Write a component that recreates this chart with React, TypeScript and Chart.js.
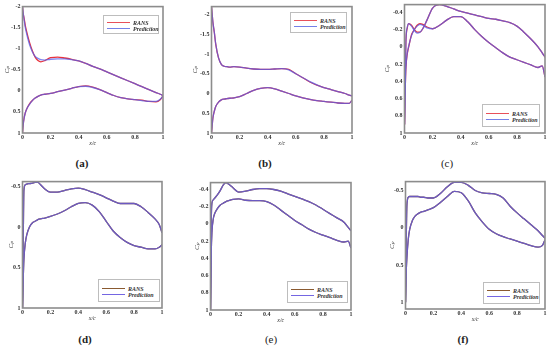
import React, { useEffect, useRef } from "react";
import { Chart, registerables } from "chart.js";
Chart.register(...registerables);

// chordwise positions x/c shared by every curve
const xc = [0, 0.005, 0.01, 0.02, 0.03, 0.05, 0.07, 0.09, 0.11, 0.13, 0.16, 0.2, 0.25, 0.3, 0.35, 0.4, 0.45, 0.5, 0.55, 0.6, 0.65, 0.7, 0.75, 0.8, 0.85, 0.9, 0.95, 0.98, 1];
const xTicks = [0, 0.2, 0.4, 0.6, 0.8, 1];

// (a)
const aUpperRans = [-2.0, -1.83, -1.75, -1.55, -1.4, -1.15, -0.95, -0.8, -0.72, -0.69, -0.72, -0.79, -0.8, -0.78, -0.75, -0.71, -0.65, -0.58, -0.52, -0.45, -0.38, -0.31, -0.24, -0.17, -0.1, -0.03, 0.04, 0.08, 0.11];
const aUpperPred = [-2.0, -1.85, -1.72, -1.5, -1.35, -1.1, -0.93, -0.82, -0.77, -0.74, -0.73, -0.75, -0.76, -0.76, -0.74, -0.71, -0.65, -0.58, -0.52, -0.45, -0.38, -0.31, -0.24, -0.17, -0.1, -0.03, 0.04, 0.08, 0.11];
const aLowerRans = [1.0, 0.8, 0.67, 0.52, 0.43, 0.31, 0.23, 0.17, 0.13, 0.1, 0.08, 0.06, 0.02, -0.02, -0.06, -0.1, -0.12, -0.09, -0.03, 0.04, 0.11, 0.16, 0.19, 0.21, 0.22, 0.25, 0.26, 0.21, 0.12];
const aLowerPred = [1.0, 0.8, 0.68, 0.52, 0.43, 0.32, 0.23, 0.17, 0.13, 0.1, 0.08, 0.06, 0.02, -0.02, -0.06, -0.1, -0.11, -0.08, -0.03, 0.04, 0.11, 0.16, 0.19, 0.21, 0.23, 0.25, 0.25, 0.2, 0.12];
const aYTicks = [-2, -1.5, -1, -0.5, 0, 0.5, 1];

// (b)
const bUpperRans = [-2.2, -2.0, -1.8, -1.55, -1.25, -0.9, -0.74, -0.69, -0.68, -0.67, -0.68, -0.67, -0.64, -0.62, -0.61, -0.61, -0.62, -0.63, -0.61, -0.5, -0.4, -0.29, -0.21, -0.15, -0.1, -0.05, 0.0, 0.04, 0.06];
const bUpperPred = [-2.2, -2.0, -1.8, -1.55, -1.26, -0.9, -0.74, -0.69, -0.68, -0.67, -0.68, -0.67, -0.64, -0.62, -0.61, -0.61, -0.62, -0.63, -0.6, -0.5, -0.4, -0.3, -0.22, -0.15, -0.1, -0.05, 0.0, 0.04, 0.06];
const bLowerRans = [1.0, 0.8, 0.62, 0.45, 0.33, 0.22, 0.16, 0.14, 0.13, 0.12, 0.11, 0.08, 0.0, -0.08, -0.13, -0.15, -0.12, -0.06, 0.0, 0.06, 0.11, 0.15, 0.18, 0.2, 0.22, 0.24, 0.25, 0.25, 0.17];
const bLowerPred = [1.0, 0.8, 0.62, 0.45, 0.33, 0.22, 0.16, 0.14, 0.13, 0.12, 0.11, 0.08, 0.0, -0.08, -0.13, -0.15, -0.12, -0.06, 0.0, 0.06, 0.11, 0.15, 0.18, 0.2, 0.22, 0.24, 0.25, 0.25, 0.17];
const bYTicks = [-2, -1.5, -1, -0.5, 0, 0.5, 1];

// (c)
const cUpperRans = [0.9, 0.4, -0.05, -0.22, -0.27, -0.25, -0.2, -0.17, -0.17, -0.21, -0.31, -0.45, -0.49, -0.47, -0.44, -0.41, -0.39, -0.37, -0.35, -0.33, -0.32, -0.3, -0.28, -0.24, -0.17, -0.09, 0.0, 0.07, 0.12];
const cUpperPred = [0.9, 0.4, -0.06, -0.23, -0.27, -0.24, -0.19, -0.16, -0.17, -0.21, -0.31, -0.45, -0.49, -0.47, -0.44, -0.41, -0.39, -0.37, -0.35, -0.33, -0.32, -0.3, -0.28, -0.24, -0.17, -0.09, 0.0, 0.07, 0.12];
const cLowerRans = [0.9, 0.5, 0.25, 0.08, 0.0, -0.14, -0.2, -0.25, -0.27, -0.26, -0.23, -0.21, -0.25, -0.31, -0.35, -0.35, -0.29, -0.2, -0.12, -0.05, 0.01, 0.07, 0.12, 0.15, 0.18, 0.21, 0.24, 0.22, 0.35];
const cLowerPred = [0.9, 0.5, 0.24, 0.07, -0.01, -0.13, -0.2, -0.24, -0.26, -0.25, -0.22, -0.21, -0.25, -0.31, -0.35, -0.35, -0.29, -0.2, -0.12, -0.05, 0.01, 0.07, 0.12, 0.15, 0.18, 0.21, 0.24, 0.22, 0.35];
const cYTicks = [-0.4, -0.2, 0, 0.2, 0.4, 0.6, 0.8, 1];

// (d)
const dUpperRans = [1.0, 0.2, -0.45, -0.52, -0.53, -0.535, -0.54, -0.55, -0.55, -0.52, -0.47, -0.43, -0.43, -0.45, -0.47, -0.48, -0.46, -0.43, -0.4, -0.36, -0.32, -0.29, -0.29, -0.29, -0.25, -0.18, -0.1, -0.03, 0.07];
const dUpperPred = [1.0, 0.2, -0.45, -0.52, -0.53, -0.535, -0.54, -0.55, -0.55, -0.52, -0.47, -0.43, -0.43, -0.45, -0.47, -0.48, -0.46, -0.43, -0.4, -0.36, -0.32, -0.29, -0.29, -0.29, -0.25, -0.18, -0.1, -0.03, 0.07];
const dLowerRans = [1.0, 0.65, 0.4, 0.2, 0.1, 0.0, -0.05, -0.07, -0.09, -0.1, -0.11, -0.13, -0.16, -0.2, -0.25, -0.29, -0.3, -0.27, -0.19, -0.07, 0.05, 0.13, 0.19, 0.23, 0.25, 0.27, 0.27, 0.25, 0.22];
const dLowerPred = [1.0, 0.65, 0.4, 0.2, 0.1, 0.0, -0.05, -0.07, -0.09, -0.1, -0.11, -0.13, -0.16, -0.2, -0.25, -0.29, -0.3, -0.27, -0.19, -0.07, 0.05, 0.13, 0.19, 0.23, 0.25, 0.27, 0.27, 0.25, 0.22];
const dYTicks = [-0.5, 0, 0.5, 1];

// (e)
const eUpperRans = [1.0, 0.0, -0.24, -0.28, -0.3, -0.34, -0.39, -0.45, -0.48, -0.46, -0.42, -0.37, -0.38, -0.4, -0.41, -0.41, -0.4, -0.38, -0.35, -0.32, -0.29, -0.26, -0.22, -0.17, -0.12, -0.07, -0.02, 0.04, 0.08];
const eUpperPred = [1.0, 0.0, -0.24, -0.28, -0.3, -0.34, -0.39, -0.45, -0.48, -0.46, -0.42, -0.37, -0.38, -0.4, -0.41, -0.41, -0.4, -0.38, -0.35, -0.32, -0.29, -0.26, -0.22, -0.17, -0.12, -0.07, -0.02, 0.04, 0.08];
const eLowerRans = [1.0, 0.35, 0.1, -0.06, -0.12, -0.18, -0.22, -0.24, -0.26, -0.27, -0.285, -0.29, -0.275, -0.27, -0.27, -0.26, -0.22, -0.16, -0.1, -0.04, 0.01, 0.06, 0.1, 0.13, 0.16, 0.19, 0.21, 0.2, 0.28];
const eLowerPred = [1.0, 0.35, 0.1, -0.06, -0.12, -0.18, -0.22, -0.24, -0.26, -0.27, -0.285, -0.29, -0.275, -0.27, -0.27, -0.26, -0.22, -0.16, -0.1, -0.04, 0.01, 0.06, 0.1, 0.13, 0.16, 0.19, 0.21, 0.2, 0.28];
const eYTicks = [-0.4, -0.2, 0, 0.2, 0.4, 0.6, 0.8, 1];

// (f)
const fUpperRans = [1.0, 0.2, -0.3, -0.41, -0.42, -0.42, -0.42, -0.42, -0.41, -0.41, -0.4, -0.4, -0.46, -0.55, -0.61, -0.61, -0.57, -0.5, -0.47, -0.46, -0.45, -0.4, -0.29, -0.2, -0.12, -0.04, 0.04, 0.1, 0.14];
const fUpperPred = [1.0, 0.2, -0.3, -0.41, -0.42, -0.42, -0.42, -0.42, -0.41, -0.41, -0.4, -0.4, -0.46, -0.55, -0.61, -0.61, -0.57, -0.5, -0.47, -0.46, -0.45, -0.4, -0.29, -0.2, -0.12, -0.04, 0.04, 0.1, 0.14];
const fLowerRans = [1.0, 0.6, 0.4, 0.15, 0.02, -0.1, -0.16, -0.19, -0.21, -0.22, -0.24, -0.27, -0.34, -0.42, -0.49, -0.47, -0.36, -0.2, -0.08, 0.02, 0.08, 0.12, 0.15, 0.18, 0.21, 0.24, 0.26, 0.24, 0.16];
const fLowerPred = [1.0, 0.6, 0.4, 0.15, 0.02, -0.1, -0.16, -0.19, -0.21, -0.22, -0.24, -0.27, -0.34, -0.42, -0.49, -0.47, -0.36, -0.2, -0.08, 0.02, 0.08, 0.12, 0.15, 0.18, 0.21, 0.24, 0.26, 0.24, 0.16];
const fYTicks = [-0.5, 0, 0.5, 1];

const seriesNames = ["RANS", "Prediction"];

const TOP_COLORS = { rans: "#e8323c", pred: "rgba(85,95,235,0.75)", legRans: "#e8505a", legPred: "#7480e8" };
const BOT_COLORS = { rans: "#7a4a22", pred: "rgba(104,92,222,0.85)", legRans: "#8a5a30", legPred: "#7466e2" };

type PanelDef = {
  name: string; bold: boolean;
  upR: number[]; upP: number[]; loR: number[]; loP: number[];
  yMin: number; yMax: number; yTicks: number[];
  rect: [number, number, number, number];
  yTitleDist: number;
  legend: [number, number, number, number];
  labelPos: [number, number];
  colors: typeof TOP_COLORS;
};

const panels: PanelDef[] = [
  { name: "(a)", bold: true, upR: aUpperRans, upP: aUpperPred, loR: aLowerRans, loP: aLowerPred, yMin: -2, yMax: 1, yTicks: aYTicks, rect: [22, 5, 163, 133], yTitleDist: 15, legend: [103, 15, 56, 19], labelPos: [82, 163], colors: TOP_COLORS },
  { name: "(b)", bold: true, upR: bUpperRans, upP: bUpperPred, loR: bLowerRans, loP: bLowerPred, yMin: -2.2, yMax: 1, yTicks: bYTicks, rect: [211, 5, 352, 133], yTitleDist: 16, legend: [290, 12, 57, 21], labelPos: [265, 163], colors: TOP_COLORS },
  { name: "(c)", bold: false, upR: cUpperRans, upP: cUpperPred, loR: cLowerRans, loP: cLowerPred, yMin: -0.49, yMax: 1, yTicks: cYTicks, rect: [404, 3, 545, 133], yTitleDist: 17, legend: [482, 104, 58, 23], labelPos: [447, 163], colors: TOP_COLORS },
  { name: "(d)", bold: true, upR: dUpperRans, upP: dUpperPred, loR: dLowerRans, loP: dLowerPred, yMin: -0.56, yMax: 1, yTicks: dYTicks, rect: [22, 180, 162, 308], yTitleDist: 11, legend: [98, 279, 62, 23], labelPos: [85, 339], colors: BOT_COLORS },
  { name: "(e)", bold: false, upR: eUpperRans, upP: eUpperPred, loR: eLowerRans, loP: eLowerPred, yMin: -0.48, yMax: 1, yTicks: eYTicks, rect: [210, 181, 351, 310], yTitleDist: 13, legend: [287, 281, 61, 22], labelPos: [271, 339], colors: BOT_COLORS },
  { name: "(f)", bold: true, upR: fUpperRans, upP: fUpperPred, loR: fLowerRans, loP: fLowerPred, yMin: -0.62, yMax: 1.09, yTicks: fYTicks, rect: [405, 180, 545, 309], yTitleDist: 13, legend: [483, 282, 57, 22], labelPos: [463, 339], colors: BOT_COLORS },
];

const SERIF = "'Liberation Serif', 'DejaVu Serif', serif";
const PAD_T = 4;
const PAD_R = 4;
const X_TITLE_DIST = 10.5;
const TITLE_LH = 7;

const framePlugin = {
  id: "frame",
  afterDatasetsDraw(chart: any) {
    const { ctx, chartArea } = chart;
    const { left, top, right, bottom } = chartArea;
    ctx.save();
    ctx.strokeStyle = "#8c8c8c";
    ctx.lineWidth = 1.6;
    ctx.strokeRect(left, top, right - left, bottom - top);
    ctx.restore();
  },
};

const pts = (xs: number[], ys: number[]) => xs.map((x, i) => ({ x, y: ys[i] }));

function PanelChart({ p }: { p: PanelDef }) {
  const ref = useRef<HTMLCanvasElement>(null);
  const [l, t, r, b] = p.rect;
  const yW = p.yTitleDist + TITLE_LH / 2;
  const xH = X_TITLE_DIST + TITLE_LH / 2;
  const cw = yW + (r - l) + PAD_R;
  const ch = PAD_T + (b - t) + xH;

  useEffect(() => {
    const ds = (name: string, ys: number[], color: string) => ({
      label: name,
      data: pts(xc, ys),
      borderColor: color,
      backgroundColor: color,
      borderWidth: 1.3,
      pointRadius: 0,
      fill: false,
      cubicInterpolationMode: "monotone" as const,
    });
    const tickFont = { family: SERIF, size: 6, weight: "bold" as const };
    const chart = new Chart(ref.current!, {
      type: "line",
      data: {
        // Chart.js paints the first dataset last, so Prediction goes first to sit on top
        datasets: [
          ds(seriesNames[1], p.upP, p.colors.pred),
          ds(seriesNames[1], p.loP, p.colors.pred),
          ds(seriesNames[0], p.upR, p.colors.rans),
          ds(seriesNames[0], p.loR, p.colors.rans),
        ],
      },
      options: {
        animation: false,
        responsive: false,
        maintainAspectRatio: false,
        devicePixelRatio: 1,
        layout: { padding: { left: 0, top: PAD_T, right: PAD_R, bottom: 0 } },
        plugins: { legend: { display: false }, tooltip: { enabled: false } },
        scales: {
          x: {
            type: "linear",
            min: 0,
            max: 1,
            grid: { display: false, drawTicks: false },
            border: { display: false },
            ticks: { font: tickFont, color: "#333", padding: 1, maxRotation: 0, autoSkip: false, callback: (v: any) => String(v) },
            afterBuildTicks: (s: any) => { s.ticks = xTicks.map((v) => ({ value: v })); },
            afterFit: (s: any) => { s.height = xH; },
            title: { display: true, text: "x/c", font: { family: SERIF, size: 6, style: "italic" }, color: "#333", padding: 0 },
          },
          y: {
            type: "linear",
            reverse: true,
            min: p.yMin,
            max: p.yMax,
            grid: { display: false, drawTicks: false },
            border: { display: false },
            ticks: { font: tickFont, color: "#333", padding: 2, autoSkip: false, callback: (v: any) => String(v) },
            afterBuildTicks: (s: any) => { s.ticks = p.yTicks.map((v) => ({ value: v })); },
            afterFit: (s: any) => { s.width = yW; },
            title: { display: true, text: "Cₚ", font: { family: SERIF, size: 7, style: "italic", lineHeight: 1 }, color: "#333", padding: 0 },
          },
        },
      } as any,
      plugins: [framePlugin],
    });
    return () => chart.destroy();
  }, []);

  return (
    <canvas
      ref={ref}
      width={cw}
      height={ch}
      style={{ position: "absolute", left: l - yW, top: t - PAD_T, width: cw, height: ch }}
    />
  );
}

function Legend({ p }: { p: PanelDef }) {
  const [l, t, w, h] = p.legend;
  const mid = h / 2;
  const rows = [
    { name: seriesNames[0], color: p.colors.legRans, y: mid - 3 },
    { name: seriesNames[1], color: p.colors.legPred, y: mid + 3 },
  ];
  return (
    <div style={{ position: "absolute", left: l, top: t, width: w, height: h, border: "1px solid #bdbdbd", boxSizing: "border-box", background: "#fff" }}>
      {rows.map((row) => (
        <React.Fragment key={row.name}>
          <div style={{ position: "absolute", left: 3, top: row.y - 1, width: 23, height: 1, background: row.color }} />
          <div style={{ position: "absolute", left: 29, top: row.y - 4, height: 8, lineHeight: "8px", fontFamily: SERIF, fontSize: 6, fontStyle: "italic", fontWeight: "bold", color: "#333", whiteSpace: "nowrap" }}>
            {row.name}
          </div>
        </React.Fragment>
      ))}
    </div>
  );
}

export default function App() {
  return (
    <div style={{ position: "absolute", left: 0, top: 0, width: 550, height: 350, background: "#fff", overflow: "hidden" }}>
      {panels.map((p) => (
        <React.Fragment key={p.name}>
          <PanelChart p={p} />
          <Legend p={p} />
          <div
            style={{
              position: "absolute",
              left: p.labelPos[0],
              top: p.labelPos[1],
              transform: "translate(-50%, -50%)",
              fontFamily: SERIF,
              fontSize: 11,
              fontWeight: p.bold ? "bold" : "normal",
              color: "#222",
              whiteSpace: "nowrap",
            }}
          >
            {p.name}
          </div>
        </React.Fragment>
      ))}
    </div>
  );
}
